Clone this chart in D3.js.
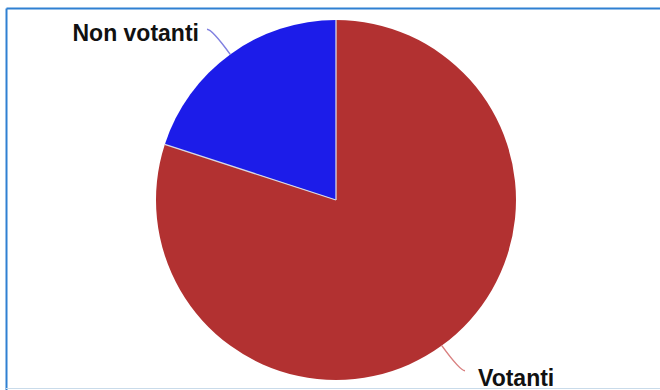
<!DOCTYPE html>
<html><head><meta charset="utf-8">
<script src="https://cdn.jsdelivr.net/npm/d3@7"></script>
<style>html,body{margin:0;padding:0;background:#fff;overflow:hidden}</style>
</head><body>
<svg id="c" width="660" height="390"></svg>
<script>
const categories = ["Votanti", "Non votanti"];
const values = [80, 20];
const colors = ["#b23131", "#1c1ce9"];
const lineColors = ["#d98080", "#8080e0"];

const svg = d3.select("#c");
// frame
svg.append("line").attr("x1",6.5).attr("y1",8.5).attr("x2",660).attr("y2",8.5).attr("stroke","#2f80d2").attr("stroke-width",2);
svg.append("line").attr("x1",6.5).attr("y1",8.5).attr("x2",6.5).attr("y2",390).attr("stroke","#2f80d2").attr("stroke-width",2);
svg.append("line").attr("x1",6).attr("y1",388.5).attr("x2",660).attr("y2",388.5).attr("stroke","#c9dbea").attr("stroke-width",1);

const cx = 336, cy = 200, R = 180;
const g = svg.append("g").attr("transform", `translate(${cx},${cy})`);
const data = categories.map((c,i)=>({name:c, value:values[i], color:colors[i], lc:lineColors[i]}));
const pie = d3.pie().sort(null).value(d=>d.value);
const arcs = pie(data);
const arc = d3.arc().innerRadius(0).outerRadius(R);
g.selectAll("path.s").data(arcs).join("path").attr("class","s")
  .attr("d", arc).attr("fill", d=>d.data.color);

function pt(a, r){ return [r*Math.sin(a), -r*Math.cos(a)]; }
// radial separators
arcs.forEach(d=>{
  const p = pt(d.startAngle, R);
  g.append("line").attr("x1",0).attr("y1",0).attr("x2",p[0]).attr("y2",p[1])
    .attr("stroke","#d8d8e2").attr("stroke-width",1.3);
});

// label leaders
arcs.forEach(d=>{
  const m = (d.startAngle + d.endAngle)/2;
  const p0 = pt(m, R);
  const p1 = pt(m, R + 31);
  const right = Math.sin(m) > 0;
  const p2 = [p1[0] + (right ? 5 : -5), p1[1]];
  svg.append("path")
    .attr("d", `M${cx+p0[0]},${cy+p0[1]} Q${cx+p1[0]},${cy+p1[1]} ${cx+p2[0]},${cy+p2[1]}`)
    .attr("fill","none").attr("stroke", d.data.lc).attr("stroke-width",1.5);
  const tx = cx + p2[0] + (right ? 13 : -8);
  const ty = cy + p2[1] + (right ? 15 : 12);
  svg.append("text").attr("x", tx).attr("y", ty)
    .attr("text-anchor", right ? "start" : "end")
    .attr("font-family","Liberation Sans, Arial, sans-serif")
    .attr("font-weight","bold").attr("font-size",23).attr("fill","#111")
    .text(d.data.name);
});
</script>
</body></html>
